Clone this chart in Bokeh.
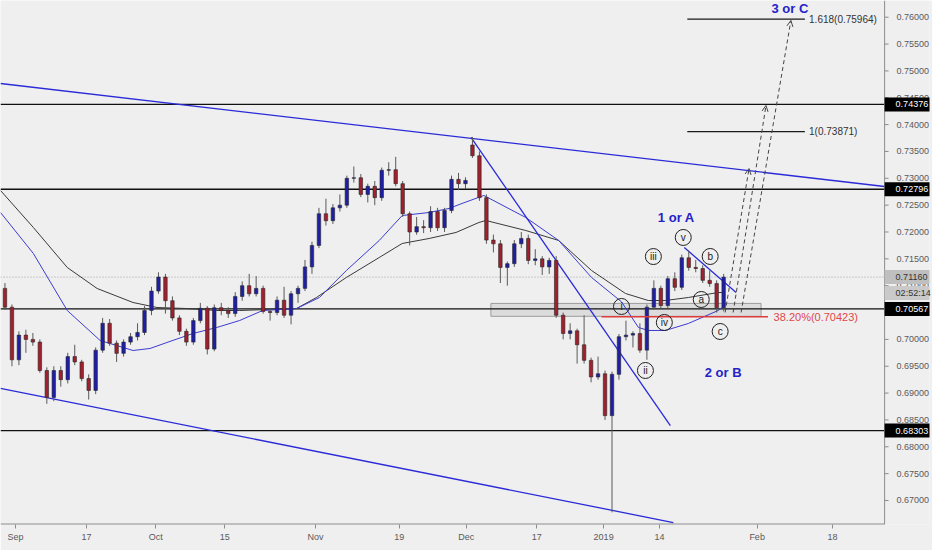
from bokeh.plotting import figure
from bokeh.models import (Range1d, FixedTicker, NumeralTickFormatter, Arrow,
                          OpenHead, ColumnDataSource, Span)
from bokeh.core.properties import value
from bokeh.embed import file_html
from bokeh.resources import INLINE

# ---------------- data (trading-day index, 0 = Mon 3 Sep 2018) ----------------
day = list(range(-2, 102))
opens = [.7095, .7060, .6962, .7008, .7000, .6995, .6942, .6892, .6942, .6925,
         .6968, .6958, .6927, .6905, .6980, .7030, .6993, .6974, .6995, .7005,
         .7013, .7054, .7090, .7116, .7072, .7040, .7015, .6995, .7035, .7058,
         .6982, .7059, .7054, .7048, .7080, .7100, .7085, .7095, .7052, .7050,
         .7073, .7045, .7085, .7095, .7135, .7175, .7234, .7221, .7245, .7250,
         .7300, .7301, .7270, .7285, .7264, .7315, .7316, .7290, .7234, .7200,
         .7210, .7208, .7238, .7208, .7240, .7298, .7290, .7362, .7342, .7264,
         .7185, .7178, .7134, .7141, .7178, .7188, .7147, .7150, .7135, .7147,
         .7045, .7011, .7016, .6990, .6961, .6930, .6936, .6858, .6935, .7005,
         .7008, .7011, .6980, .7060, .7095, .7063, .7113, .7097, .7152, .7134,
         .7132, .7110, .7104, .7059]
highs = [.7105, .7065, .7015, .7018, .7012, .7000, .6948, .6950, .6950, .6975,
         .6990, .6962, .6935, .6985, .7040, .7038, .6998, .7000, .7012, .7030,
         .7062, .7098, .7125, .7122, .7080, .7045, .7020, .7040, .7068, .7062,
         .7065, .7068, .7060, .7088, .7108, .7122, .7118, .7100, .7058, .7080,
         .7098, .7090, .7100, .7148, .7182, .7245, .7262, .7252, .7270, .7305,
         .7322, .7308, .7290, .7295, .7320, .7330, .7340, .7295, .7238, .7228,
         .7222, .7248, .7245, .7245, .7305, .7310, .7302, .7377, .7350, .7270,
         .7195, .7185, .7145, .7185, .7200, .7195, .7168, .7155, .7152, .7155,
         .7050, .7030, .7020, .7045, .6966, .6968, .6942, .6940, .7010, .7035,
         .7015, .7030, .7065, .7110, .7100, .7118, .7125, .7158, .7165, .7148,
         .7138, .7128, .7110, .7122]
lows = [.7055, .6950, .6952, .6975, .6988, .6938, .6880, .6885, .6912, .6918,
        .6952, .6922, .6888, .6898, .6975, .6988, .6958, .6968, .6990, .6998,
        .7008, .7045, .7085, .7048, .7035, .7008, .6988, .6990, .7030, .6972,
        .6978, .7045, .7040, .7042, .7072, .7080, .7080, .7048, .7035, .7045,
        .7040, .7028, .7068, .7090, .7122, .7170, .7212, .7215, .7238, .7245,
        .7292, .7265, .7255, .7250, .7258, .7305, .7285, .7228, .7175, .7195,
        .7198, .7200, .7202, .7200, .7235, .7278, .7280, .7338, .7258, .7178,
        .7162, .7105, .7100, .7135, .7170, .7140, .7138, .7120, .7122, .7040,
        .7000, .7000, .6955, .6955, .6920, .6925, .6850, .6678, .6925, .6998,
        .6985, .6975, .6962, .7055, .7058, .7058, .7090, .7092, .7128, .7125,
        .7105, .7098, .7050, .7052]
closes = [.7060, .6962, .7008, .7000, .6995, .6942, .6892, .6942, .6925, .6968,
          .6958, .6927, .6905, .6980, .7030, .6993, .6974, .6995, .7005, .7013,
          .7054, .7090, .7116, .7072, .7040, .7015, .6995, .7035, .7058, .6982,
          .7059, .7054, .7048, .7080, .7100, .7085, .7095, .7052, .7050, .7073,
          .7045, .7085, .7095, .7135, .7175, .7234, .7221, .7245, .7250, .7300,
          .7301, .7270, .7285, .7264, .7315, .7316, .7290, .7234, .7200, .7210,
          .7208, .7238, .7208, .7240, .7298, .7290, .7296, .7342, .7264, .7185,
          .7178, .7134, .7141, .7178, .7188, .7147, .7150, .7135, .7147, .7045,
          .7011, .7016, .6990, .6961, .6930, .6936, .6858, .6935, .7005, .7008,
          .7011, .6980, .7060, .7095, .7063, .7113, .7097, .7152, .7134, .7132,
          .7110, .7104, .7059, .7116]

# moving averages (day index, price)
ma_black_x = [-2.14, 2.57, 7.43, 11.71, 16.86, 20.29, 24.57, 28.86, 32.14, 40.29,
              43.14, 47.43, 52.14, 55.43, 59.29, 63.14, 66.43, 67.43, 73.14, 77.86,
              82.57, 87.43, 90.71, 93.14, 96.43, 100.71, 101.71]
ma_black_y = [.72773, .72084, .71339, .70948, .70687, .70594, .70575, .70538, .70538, .70575,
              .70780, .71153, .71525, .71786, .71879, .71991, .72177, .72214, .72028, .71842,
              .71283, .70855, .70724, .70724, .70780, .70873, .70873]
ma_blue_x = [-2.14, 2.57, 7.43, 12.14, 16.86, 19.29, 21.71, 25.43, 28.86, 32.14,
             35.43, 40.29, 43.57, 47.43, 52.14, 55.43, 59.29, 62.14, 64.0, 67.14,
             73.14, 77.86, 82.57, 86.86, 89.29, 90.71, 93.14, 96.43, 100.71, 101.71]
ma_blue_y = [.72363, .71600, .70538, .69980, .69793, .69831, .69942, .70110, .70222, .70352,
             .70538, .70575, .70780, .71283, .71842, .72307, .72363, .72438, .72531, .72680,
             .72270, .71842, .71153, .70700, .70222, .70166, .70166, .70296, .70538, .70631]

# drawn trend lines: (x0, y0, x1, y1)
trend_x0 = [-2.14, -2.14, 65.29, 95.86]
trend_y0 = [.74765, .69086, .73760, .71711]
trend_x1 = [124.57, 94.29, 93.86, 103.29]
trend_y1 = [.72847, .66590, .68396, .70873]

# horizontal levels
levels = [0.74376, 0.72796, 0.70567, 0.68303]
last_price = 0.71160
countdown = "02:52:14"

# fibonacci projections
fib_x0, fib_x1 = 96.29, 113.14
fib_prices = [0.75964, 0.73871]
fib_texts = ["1.618(0.75964)", "1(0.73871)"]
retr_x0, retr_x1 = 84.0, 107.86
retr_price = 0.70423
retr_text = "38.20%(0.70423)"

# support zone
zone_left, zone_right, zone_top, zone_bottom = 68.14, 106.86, 0.7067, 0.7043

# wave counts
wave_x = [86.86, 90.29, 91.43, 93.0, 95.71, 98.29, 99.57, 101.0]
wave_y = [.70613, .69421, .71543, .70315, .71898, .70743, .71544, .70147]
wave_t = ["i", "ii", "iii", "iv", "v", "a", "b", "c"]
big_x = [94.71, 101.43, 111.0]
big_y = [.7227, .69379, .76162]
big_t = ["1 or A", "2 or B", "3 or C"]

# projection arrows (x0, y0, x1, y1)
arr_x0 = [101.71, 102.86, 104.0]
arr_y0 = [.70501, .70501, .70501]
arr_x1 = [105.14, 107.57, 111.14]
arr_y1 = [.73182, .74356, .75939]

# axes
price_ticks = [0.670 + 0.005 * k for k in range(19)]
tick_days = [0, 10.2, 20.1, 30, 43, 55, 64.6, 74.7, 84.3, 92.3, 106.3, 117.1]
tick_labels = ["Sep", "17", "Oct", "15", "Nov", "19", "Dec", "17", "2019", "14", "Feb", "18"]

# ---------------- layout ----------------
W, H = 932, 550
PX_PER_DAY = 7.0                 # horizontal scale of the chart pane
X0, X_AXIS = -2.14, 124.57       # chart pane: left edge .. price-scale line
X_END = X0 + W / PX_PER_DAY      # frame also covers the price-scale column
Y0, Y1 = 0.66553, 0.76311
FRAME_H = 524
PX_Y = (Y1 - Y0) / FRAME_H       # price per pixel

BG = "#efeff0"
UP = "#1f1fa6"
DOWN = "#a0202e"
TL_BLUE = "#2a2ad8"
FONT = "Liberation Sans"
AX_COL = "#8c8c8c"

p = figure(width=W, height=H, x_range=Range1d(X0, X_END), y_range=Range1d(Y0, Y1),
           output_backend="svg", toolbar_location=None, y_axis_location="right")
p.background_fill_color = BG
p.border_fill_color = BG
p.outline_line_color = None
p.xgrid.visible = False
p.ygrid.visible = False
p.min_border_left = 0
p.min_border_top = 0
p.min_border_right = 0
p.min_border_bottom = 26

# x axis
xa = p.xaxis[0]
xa.ticker = FixedTicker(ticks=tick_days)
xa.major_label_overrides = dict(zip(tick_days, tick_labels))
xa.axis_line_color = None
xa.major_tick_line_color = AX_COL
xa.major_tick_in = 0
xa.major_tick_out = 4
xa.minor_tick_out = 0
xa.minor_tick_in = 0
xa.major_label_text_color = "#5a5a5a"
xa.major_label_text_font = FONT
xa.major_label_text_font_size = "9px"
xa.major_label_standoff = 3

# y axis: labels pulled back into the price-scale column
ya = p.yaxis[0]
ya.ticker = FixedTicker(ticks=price_ticks)
ya.formatter = NumeralTickFormatter(format="0.00000")
ya.axis_line_color = None
ya.major_tick_line_color = None
ya.major_tick_in = 0
ya.major_tick_out = 0
ya.minor_tick_out = 0
ya.minor_tick_in = 0
ya.major_label_text_color = "#5a5a5a"
ya.major_label_text_font = FONT
ya.major_label_text_font_size = "9px"
ya.major_label_standoff = -33

# price-scale line, its ticks, and the time-axis line of the chart pane
p.add_layout(Span(location=X_AXIS, dimension="height", line_color=AX_COL, line_width=1))
p.segment(x0=[X_AXIS] * len(price_ticks), y0=price_ticks,
          x1=[X_AXIS + 4 / PX_PER_DAY] * len(price_ticks), y1=price_ticks,
          line_color=AX_COL, line_width=1)
p.segment(x0=[X0], y0=[Y0], x1=[X_AXIS], y1=[Y0], line_color=AX_COL, line_width=2)

# zone
p.quad(left=[zone_left], right=[zone_right], top=[zone_top], bottom=[zone_bottom],
       fill_color="#d6d6d6", fill_alpha=0.75, line_color="#9c9c9c", line_width=1)

# levels
lv_n = len(levels)
p.segment(x0=[X0] * lv_n, y0=levels, x1=[X_AXIS] * lv_n, y1=levels,
          line_color="#111111", line_width=1.3)
p.segment(x0=[X0], y0=[last_price], x1=[X_AXIS], y1=[last_price], line_color="#a0a0a0",
          line_width=1, line_dash="1 2")

# moving averages
p.line(ma_black_x, ma_black_y, line_color="#3a3a3a", line_width=1)
p.line(ma_blue_x, ma_blue_y, line_color="#3c3cd0", line_width=1)

# trend lines
p.segment(x0=trend_x0, y0=trend_y0, x1=trend_x1, y1=trend_y1, line_color=TL_BLUE, line_width=1.3)

# candles
xs = [d + 0.5 for d in day]
tops = [max(o, c) for o, c in zip(opens, closes)]
bots = [min(o, c) for o, c in zip(opens, closes)]
cols = [UP if c >= o else DOWN for o, c in zip(opens, closes)]
src = ColumnDataSource(dict(x=xs, h=highs, l=lows, top=tops, bot=bots, col=cols))
p.segment(x0="x", y0="l", x1="x", y1="h", source=src, line_color="#5a5a5a", line_width=1)
p.vbar(x="x", width=0.5, top="top", bottom="bot", source=src, fill_color="col",
       line_color="#262626", line_width=0.6)

# fib lines & labels
for fp, ft in zip(fib_prices, fib_texts):
    p.segment(x0=[fib_x0], y0=[fp], x1=[fib_x1], y1=[fp], line_color="#1a1a1a", line_width=1.2)
    p.text(x=[fib_x1 + 0.6], y=[fp], text=[ft], text_font=value(FONT),
           text_font_size="10px", text_color="#333333", text_baseline="middle", text_align="left")
p.segment(x0=[retr_x0], y0=[retr_price], x1=[retr_x1], y1=[retr_price], line_color="#e03a3a",
          line_width=1.4)
p.text(x=[retr_x1 + 0.8], y=[retr_price], text=[retr_text], text_font=value(FONT),
       text_font_size="11px", text_color="#e04848", text_baseline="middle", text_align="left")

# projection arrows
for a0, b0, a1, b1 in zip(arr_x0, arr_y0, arr_x1, arr_y1):
    p.add_layout(Arrow(end=OpenHead(size=6, line_color="#444444", line_width=1),
                       x_start=a0, y_start=b0, x_end=a1, y_end=b1,
                       line_color="#444444", line_width=1, line_dash="4 3"))

# wave labels
p.scatter(wave_x, wave_y, marker="circle", size=16, fill_alpha=0, line_color="#202020", line_width=1)
p.text(x=wave_x, y=wave_y, text=wave_t, text_font=value(FONT), text_font_size="10px",
       text_color="#202020", text_align="center", text_baseline="middle")
p.text(x=big_x, y=big_y, text=big_t, text_font=value(FONT), text_font_size="13px",
       text_font_style="bold", text_color="#2323c8", text_align="center", text_baseline="middle")

# price boxes in the price-scale column (drawn above the axis labels)
BOX_H = 14 * PX_Y
p.quad(left=[X_AXIS] * lv_n, right=[X_END] * lv_n,
       top=[v + BOX_H / 2 for v in levels], bottom=[v - BOX_H / 2 for v in levels],
       fill_color="black", line_color=None, level="overlay")
p.text(x=[X_AXIS] * lv_n, y=levels, text=[f"{v:.5f}" for v in levels], x_offset=11,
       text_font=value(FONT), text_font_size="9px", text_color="white",
       text_baseline="middle", text_align="left", level="overlay")
cd_price = last_price - 16 * PX_Y
p.quad(left=[X_AXIS, X_AXIS], right=[X_END, X_END],
       top=[last_price + BOX_H / 2, cd_price + BOX_H / 2],
       bottom=[last_price - BOX_H / 2, cd_price - BOX_H / 2],
       fill_color=["#bfbfbf", "#cacaca"], line_color=None, level="overlay")
p.text(x=[X_AXIS, X_AXIS], y=[last_price, cd_price], text=[f"{last_price:.5f}", countdown],
       x_offset=11, text_font=value(FONT), text_font_size="9px", text_color="#333333",
       text_baseline="middle", text_align="left", level="overlay")

open("out.html", "w").write(file_html(p, INLINE))
